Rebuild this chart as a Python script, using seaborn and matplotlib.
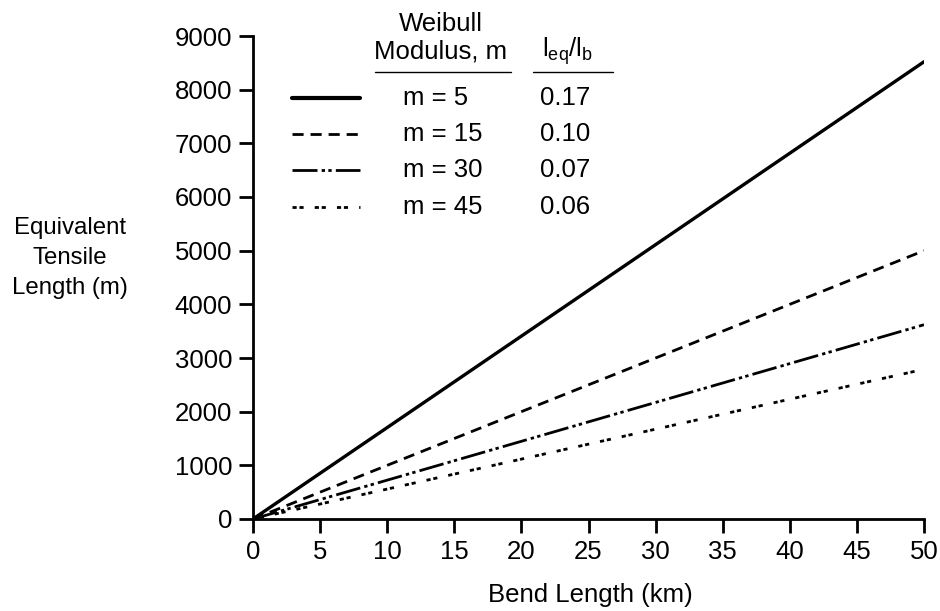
import matplotlib
matplotlib.use("Agg")
import matplotlib.pyplot as plt
import seaborn as sns
import pandas as pd
from matplotlib.lines import Line2D

sns.set_theme(style="ticks")
plt.rcParams['font.family'] = ['Liberation Sans', 'DejaVu Sans']
plt.rcParams['mathtext.fontset'] = 'custom'
plt.rcParams['mathtext.rm'] = 'Liberation Sans'

# Data
bend_length_km = [0, 50]
moduli = ["m = 5", "m = 15", "m = 30", "m = 45"]
ratios = ["0.17", "0.10", "0.07", "0.06"]
eq_m5 = [0, 8520]
eq_m15 = [0, 5000]
eq_m30 = [0, 3620]
eq_m45 = [0, 2790]
x_ticks = [0, 5, 10, 15, 20, 25, 30, 35, 40, 45, 50]
y_ticks = [0, 1000, 2000, 3000, 4000, 5000, 6000, 7000, 8000, 9000]

series = [eq_m5, eq_m15, eq_m30, eq_m45]
styles = [
    dict(lw=2.4, dashes=(None, None)),
    dict(lw=2.0, dashes=(4, 2.5)),
    dict(lw=2.0, dashes=(9, 1.5, 1.2, 1.2, 1.2, 1.5)),
    dict(lw=2.0, dashes=(1.5, 1.0, 1.5, 4.0)),
]

FS = 18.5

fig = plt.figure(figsize=(9.4, 6.11), dpi=100)
ax = fig.add_axes([253/940, 1-519/611, (924-253)/940, (519-36)/611])

for vals, st, name in zip(series, styles, moduli):
    df = pd.DataFrame({"x": bend_length_km, "y": vals})
    sns.lineplot(data=df, x="x", y="y", ax=ax, color="black", lw=st["lw"])
    l = ax.lines[-1]
    if st["dashes"][0] is not None:
        l.set_dashes(st["dashes"])

ax.set_xlim(0, 50)
ax.set_ylim(0, 9000)
ax.set_xticks(x_ticks)
ax.set_yticks(y_ticks)
ax.set_xticklabels([str(v) for v in x_ticks])
ax.set_yticklabels([str(v) for v in y_ticks])
for s in ["top", "right"]:
    ax.spines[s].set_visible(False)
for s in ["left", "bottom"]:
    ax.spines[s].set_linewidth(2.0)
    ax.spines[s].set_color("black")
ax.tick_params(axis="both", direction="out", length=10, width=2.0, color="black",
               labelsize=FS, labelcolor="black", pad=5)
ax.set_xlabel("")
ax.set_ylabel("")
fig.text(590/940, 1-595/611, "Bend Length (km)", ha="center", va="center",
         fontsize=FS, color="black")
fig.text(70/940, 1-258/611, "Equivalent\nTensile\nLength (m)", ha="center", va="center",
         fontsize=17.3, color="black", linespacing=1.45)

# Legend table
def fx(px):
    return px / 940
def fy(py):
    return 1 - py / 611

fig.text(fx(441), fy(24), "Weibull", ha="center", va="center", fontsize=FS, color="black")
fig.text(fx(441), fy(51), "Modulus, m", ha="center", va="center", fontsize=FS, color="black")
fig.text(fx(568), fy(51), r"l$_{\rm eq}$/l$_{\rm b}$", ha="center", va="center", fontsize=FS, color="black")
fig.add_artist(Line2D([fx(375), fx(511)], [fy(72), fy(72)], color="black", lw=1.0))
fig.add_artist(Line2D([fx(533), fx(613)], [fy(72), fy(72)], color="black", lw=1.0))

rows_y = [98, 134, 170, 207]
for ry, st, name, r in zip(rows_y, styles, moduli, ratios):
    ln = Line2D([fx(292), fx(360)], [fy(ry), fy(ry)], color="black",
                lw=st["lw"] + (0.6 if st["dashes"][0] is None else 0))
    if st["dashes"][0] is not None:
        ln.set_dashes(st["dashes"])
    fig.add_artist(ln)
    fig.text(fx(403), fy(ry), name, ha="left", va="center", fontsize=FS, color="black")
    fig.text(fx(540), fy(ry), r, ha="left", va="center", fontsize=FS, color="black")

fig.savefig("out.png", dpi=100, facecolor="white")
